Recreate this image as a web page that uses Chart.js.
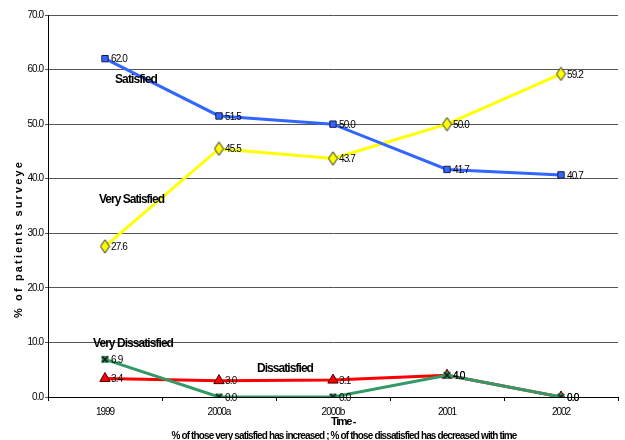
<!DOCTYPE html>
<html>
<head>
<meta charset="utf-8">
<script src="https://cdn.jsdelivr.net/npm/chart.js@4/dist/chart.umd.min.js"></script>
<style>
  html, body { margin: 0; padding: 0; background: #fff; }
  #wrap { width: 625px; height: 440px; }
</style>
</head>
<body>
<div id="wrap"><canvas id="cSurvey" width="625" height="440"></canvas></div>
<script>
// survey results per period (% of patients)
const years = ['1999', '2000a', '2000b', '2001', '2002'];
const satisfied = [62.0, 51.5, 50.0, 41.7, 40.7];
const verySatisfied = [27.6, 45.5, 43.7, 50.0, 59.2];
const dissatisfied = [3.4, 3.0, 3.1, 4.0, 0.0];
const veryDissatisfied = [6.9, 0.0, 0.0, 4.0, 0.0];
const yMin = 0, yMax = 70, yStep = 10;

const FONT = '"Liberation Sans", Arial, sans-serif';

// tall yellow diamond marker
function diamond() {
    let c = document.createElement('canvas');
    c.width = 11; c.height = 15;
    let g = c.getContext('2d');
    g.beginPath();
    g.moveTo(5.5, 0.8); g.lineTo(10, 7.5); g.lineTo(5.5, 14.2); g.lineTo(1, 7.5);
    g.closePath();
    g.fillStyle = '#ffff00'; g.fill();
    g.strokeStyle = '#222'; g.lineWidth = 1; g.stroke();
    return c;
}

// dark x on a small green block
function greenX() {
    let c = document.createElement('canvas');
    c.width = 9; c.height = 9;
    let g = c.getContext('2d');
    g.fillStyle = '#339966';
    g.fillRect(1, 1, 7, 7);
    g.strokeStyle = '#111';
    g.lineWidth = 1.6;
    g.beginPath();
    g.moveTo(1.5, 1.5); g.lineTo(7.5, 7.5);
    g.moveTo(7.5, 1.5); g.lineTo(1.5, 7.5);
    g.stroke();
    return c;
}

// squeeze/stretch a string to a given width
function fitText(ctx, text, x, y, width, align) {
    ctx.letterSpacing = '0px';
    let w = ctx.measureText(text).width;
    let sp = (width - w) / text.length;
    ctx.letterSpacing = sp + 'px';
    ctx.textAlign = 'left';
    let x0 = align == 'center' ? x - width / 2 : x;
    ctx.fillText(text, x0, y);
}

const textPlugin = {
    id: 'surveyText',
    beforeDraw(chart) {
        chart.ctx.letterSpacing = '-1px';
    },
    afterDatasetsDraw(chart) {
        const ctx = chart.ctx;
        ctx.save();
        ctx.fillStyle = '#000';
        ctx.textBaseline = 'middle';
        ctx.font = '10px ' + FONT;
        // value labels next to each marker
        chart.data.datasets.forEach((ds, i) => {
            let meta = chart.getDatasetMeta(i);
            meta.data.forEach((pt, j) => {
                let s = ds.data[j].toFixed(1);
                ctx.letterSpacing = '0px';
                let w = ctx.measureText(s).width;
                ctx.letterSpacing = ((w * 0.82 - w) / s.length) + 'px';
                ctx.fillText(s, pt.x + 6, pt.y + 1);
            });
        });
        // series names
        ctx.font = 'bold 12px ' + FONT;
        fitText(ctx, 'Satisfied', 115, 80, 42);
        fitText(ctx, 'Very Satisfied', 99, 200, 65);
        fitText(ctx, 'Very Dissatisfied', 93, 344, 80);
        fitText(ctx, 'Dissatisfied', 257, 369, 56);
        ctx.restore();
    },
    afterDraw(chart) {
        const ctx = chart.ctx;
        ctx.save();
        ctx.fillStyle = '#000';
        ctx.textBaseline = 'middle';
        ctx.font = 'bold 11px ' + FONT;
        fitText(ctx, 'Time -', 343, 422, 24, 'center');
        ctx.font = 'bold 10px ' + FONT;
        fitText(ctx, '% of those very satisfied has increased ; % of those dissatisfied has decreased with time', 344, 436, 345, 'center');
        // y axis title
        ctx.translate(19, 239);
        ctx.rotate(-Math.PI / 2);
        ctx.font = 'bold 11px ' + FONT;
        fitText(ctx, '% of patients surveye', 0, 0, 158, 'center');
        ctx.restore();
    }
};

window.addEventListener('load', () => {
    let cSurvey = document.getElementById('cSurvey');
    new Chart(cSurvey, {
        type: 'line',
        data: {
            labels: years,
            datasets: [{
                label: 'Very Dissatisfied',
                data: veryDissatisfied,
                borderColor: '#339966',
                borderWidth: 3,
                pointStyle: greenX(),
                order: 0
            }, {
                label: 'Dissatisfied',
                data: dissatisfied,
                borderColor: '#ff0000',
                borderWidth: 3,
                pointStyle: 'triangle',
                pointRadius: 6,
                pointBorderWidth: 1,
                pointBorderColor: '#400000',
                pointBackgroundColor: '#ff0000',
                order: 1
            }, {
                label: 'Satisfied',
                data: satisfied,
                borderColor: '#3366ff',
                borderWidth: 3,
                pointStyle: 'rect',
                pointRadius: 4.5,
                pointBorderWidth: 1,
                pointBorderColor: '#1a1a40',
                pointBackgroundColor: '#3366ff',
                order: 2
            }, {
                label: 'Very Satisfied',
                data: verySatisfied,
                borderColor: '#ffff00',
                borderWidth: 3,
                pointStyle: diamond(),
                order: 3
            }]
        },
        options: {
            responsive: false,
            animation: false,
            events: [],
            layout: { padding: { top: 15, right: 0, left: 0, bottom: 0 } },
            plugins: {
                legend: { display: false },
                tooltip: { enabled: false },
                title: { display: false }
            },
            scales: {
                x: {
                    offset: true,
                    grid: {
                        offset: true,
                        drawOnChartArea: false,
                        drawTicks: true,
                        tickLength: 4,
                        color: '#000'
                    },
                    border: { color: '#000', width: 1 },
                    ticks: {
                        color: '#000',
                        font: { family: FONT, size: 10 },
                        padding: 5,
                        maxRotation: 0,
                        autoSkip: false
                    },
                    afterFit: (s) => { s.height = 43; }
                },
                y: {
                    min: yMin,
                    max: yMax,
                    grid: {
                        color: '#555',
                        tickLength: 3,
                        drawTicks: true
                    },
                    border: { color: '#000', width: 1 },
                    ticks: {
                        stepSize: yStep,
                        color: '#000',
                        font: { family: FONT, size: 10 },
                        padding: 2,
                        callback: (v) => v.toFixed(1)
                    },
                    afterFit: (s) => { s.width = 48; }
                }
            }
        },
        plugins: [textPlugin]
    });
});
</script>
</body>
</html>
